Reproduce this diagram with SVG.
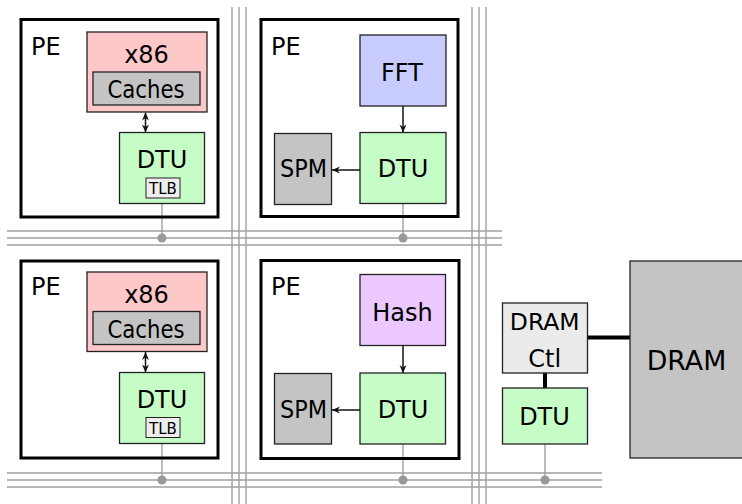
<svg xmlns="http://www.w3.org/2000/svg" width="742" height="504" viewBox="0 0 742 504">
<style>
text{font-family:"DejaVu Sans","Liberation Sans",sans-serif;fill:#000;text-anchor:middle}
.pe{fill:none;stroke:#000;stroke-width:3}
.box{stroke:#222;stroke-width:1.3}
.x86{fill:#ffc8c8}
.gray{fill:#c4c4c4}
.dtu{fill:#c6fcc6}
.fft{fill:#c8ccff}
.hash{fill:#ebc8ff}
.ctl{fill:#ebebeb}
.tlb{fill:#eeeeee;stroke:#222;stroke-width:1}
.bus{stroke:#a0a0a0;stroke-width:1.4;fill:none}
.tap{stroke:#999;stroke-width:1.3;fill:none}
.dot{fill:#999}
.arrow{stroke:#111;stroke-width:1.5;fill:none}
.thick{stroke:#000;stroke-width:4;fill:none}
.t24{font-size:24px}
.lab{font-size:24px;text-anchor:start}
.tlbt{font-size:15px}
</style>
<defs>
<marker id="ah" viewBox="-9 -5 10 10" refX="0" refY="0" markerWidth="10" markerHeight="10" markerUnits="userSpaceOnUse" orient="auto-start-reverse">
<path d="M0,0 L-8,-3.5 L-5.5,0 L-8,3.5 Z" fill="#111"/>
</marker>
</defs>
<g id="connectors">
<g id="bus">
<path class="bus" d="M7,231H502M7,238H502M7,245H502"/>
<path class="bus" d="M7,473H602M7,480H602M7,487H602"/>
<path class="bus" d="M232,7V504M239,7V504M246,7V504"/>
<path class="bus" d="M472,7V504M479,7V504M486,7V504"/>
</g>
<path class="tap" d="M162,204V238M403,204V238M162,444V480M403,444V480M545,444V480"/>
<circle class="dot" cx="162" cy="238" r="4.5"/>
<circle class="dot" cx="403" cy="238" r="4.5"/>
<circle class="dot" cx="162" cy="480" r="4.5"/>
<circle class="dot" cx="403" cy="480" r="4.5"/>
<circle class="dot" cx="545" cy="480" r="4.5"/>
<path class="arrow" d="M145.5,112.5V132.5" marker-start="url(#ah)" marker-end="url(#ah)"/>
<path class="arrow" d="M145.5,352V372.5" marker-start="url(#ah)" marker-end="url(#ah)"/>
<path class="arrow" d="M403,106V132.5" marker-end="url(#ah)"/>
<path class="arrow" d="M360,170H332" marker-end="url(#ah)"/>
<path class="arrow" d="M403,345.5V373" marker-end="url(#ah)"/>
<path class="arrow" d="M360,410H332" marker-end="url(#ah)"/>
<path class="thick" d="M587.5,337.5H630M545,373V388"/>
</g>
<g id="pe1">
<rect class="pe" x="21" y="19.5" width="197" height="197.5"/>
<text class="lab" x="31" y="55">PE</text>
<rect class="box x86" x="87" y="32" width="120" height="80"/>
<text class="t24" x="146.5" y="62.5">x86</text>
<rect class="box gray" x="93" y="72" width="107" height="33"/>
<text class="t24" x="146" y="98" textLength="77" lengthAdjust="spacingAndGlyphs">Caches</text>
<rect class="box dtu" x="119.5" y="132.5" width="85" height="71"/>
<text class="t24" x="162" y="168">DTU</text>
<rect class="tlb" x="146" y="178" width="34" height="20"/>
<text class="tlbt" x="163" y="194">TLB</text>
</g>
<g id="pe2">
<rect class="pe" x="261" y="19.5" width="197" height="197"/>
<text class="lab" x="271" y="55">PE</text>
<rect class="box fft" x="360" y="35" width="86" height="71"/>
<text class="t24" x="402" y="81">FFT</text>
<rect class="box gray" x="274.5" y="133.5" width="57" height="71"/>
<text class="t24" x="303.5" y="177" textLength="47" lengthAdjust="spacingAndGlyphs">SPM</text>
<rect class="box dtu" x="360" y="132.5" width="86" height="71"/>
<text class="t24" x="403" y="177">DTU</text>
</g>
<g id="pe3">
<rect class="pe" x="21" y="261" width="197" height="197"/>
<text class="lab" x="31" y="295">PE</text>
<rect class="box x86" x="87" y="272" width="120" height="79.5"/>
<text class="t24" x="146.5" y="302.5">x86</text>
<rect class="box gray" x="93" y="311.5" width="107" height="33"/>
<text class="t24" x="146" y="338" textLength="77" lengthAdjust="spacingAndGlyphs">Caches</text>
<rect class="box dtu" x="119.5" y="372.5" width="85" height="71"/>
<text class="t24" x="162" y="408">DTU</text>
<rect class="tlb" x="146" y="417.5" width="34" height="20"/>
<text class="tlbt" x="163" y="433.5">TLB</text>
</g>
<g id="pe4">
<rect class="pe" x="261" y="260.5" width="198" height="198"/>
<text class="lab" x="271" y="295">PE</text>
<rect class="box hash" x="360" y="274.5" width="85.5" height="71"/>
<text class="t24" x="402.5" y="321">Hash</text>
<rect class="box gray" x="274.5" y="373.5" width="57" height="70.5"/>
<text class="t24" x="303.5" y="418" textLength="47" lengthAdjust="spacingAndGlyphs">SPM</text>
<rect class="box dtu" x="360" y="373" width="85.5" height="71"/>
<text class="t24" x="403" y="418">DTU</text>
</g>
<g id="dramctl">
<rect class="box ctl" x="502.5" y="303" width="85" height="70"/>
<text class="t24" x="544.7" y="329.5" style="font-size:23.5px">DRAM</text>
<text class="t24" x="544.7" y="366.5">Ctl</text>
</g>
<g id="memdtu">
<rect class="box dtu" x="502.5" y="388" width="85" height="56"/>
<text class="t24" x="544.5" y="425">DTU</text>
</g>
<g id="dram">
<rect class="box gray" x="630" y="261" width="120" height="197"/>
<text class="t24" x="686.5" y="370" style="font-size:26.8px">DRAM</text>
</g>
</svg>
